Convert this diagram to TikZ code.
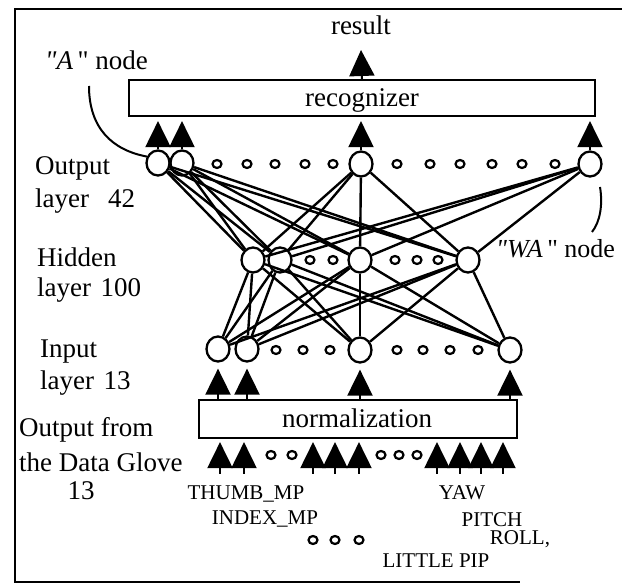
\documentclass[tikz,border=0pt]{standalone}
\usepackage{fontspec}
\setmainfont{Liberation Serif}
\usetikzlibrary{arrows.meta,shapes.geometric}
\begin{document}
\begin{tikzpicture}[x=1pt,y=-1pt,
  big/.style={ellipse,draw,line width=2.3pt,minimum width=23pt,minimum height=25pt,inner sep=0pt},
  small/.style={ellipse,draw,line width=2.2pt,minimum width=9pt,minimum height=8pt,inner sep=0pt},
  conn/.style={line width=2.4pt},
  arr/.style={line width=2pt,-{Triangle[length=26pt,width=25pt]}},
  box/.style={draw,line width=2.2pt,inner sep=0pt},
  lab/.style={font=\fontsize{27}{30}\selectfont,anchor=base west,inner sep=0pt},
  ctext/.style={font=\fontsize{27}{30}\selectfont,anchor=base,inner sep=0pt},
  glab/.style={font=\fontsize{21}{24}\selectfont,anchor=base,inner sep=0pt},
]
\useasboundingbox (0,0) rectangle (622,585);
% frame
\draw[line width=2pt] (622,9) -- (15,9) -- (15,582) -- (520,582);

% boxes
\node[box,minimum width=466pt,minimum height=36pt] (rec) at (362,98) {};
\node[ctext] (rectext) at (362,107) {recognizer};
\node[box,minimum width=318pt,minimum height=38pt] (norm) at (358,419) {};
\node[ctext] (normtext) at (357,428) {normalization};

% result
\node[ctext] (res) at (361,35) {result};
\draw[arr] (rec.north) -- ([yshift=-15pt]res.base);

% output layer
\node[big] (O1) at (158,163) {};
\node[big] (O2) at (182,163) {};
\node[big] (O3) at (361,164) {};
\node[big] (O4) at (590,164) {};
\foreach \x [count=\i] in {217,247,275,305,333,397,430,460,492,522,555}
  \node[small] (os\i) at (\x,164) {};

% hidden layer
\node[big] (H1) at (253,260) {};
\node[big] (H2) at (280,260) {};
\node[big] (H3) at (360,260) {};
\node[big] (H4) at (468,260) {};
\foreach \x [count=\i] in {310,333,395,417,438}
  \node[small] (hs\i) at (\x,260) {};

% input layer
\node[big] (I1) at (218,349) {};
\node[big] (I2) at (247,349) {};
\node[big] (I3) at (360,350) {};
\node[big] (I4) at (510,350) {};
\foreach \x [count=\i] in {276,303,330,397,423,450,478}
  \node[small] (is\i) at (\x,350) {};

% connections
\foreach \o in {O1,O2,O3,O4}
  \foreach \h in {H1,H2,H3,H4}
    \draw[conn] (\o) -- (\h);
\foreach \h in {H1,H2,H3,H4}
  \foreach \i in {I1,I2,I3,I4}
    \draw[conn] (\h) -- (\i);

% arrows output -> recognizer
\foreach \o in {O1,O2,O3,O4}
  \draw[arr,shorten >=4pt] (\o.north) -- (\o.north |- rec.south);

% arrows normalization -> input
\foreach \i in {I1,I2,I3,I4}
  \draw[arr,shorten >=6pt] (\i |- norm.north) -- (\i.south);

% glove arrows
\foreach \x [count=\k] in {220,244,313,335,359,437,460,481,503}{
  \coordinate (g\k) at (\x,474);
  \draw[arr,shorten >=3pt] (g\k) -- (g\k |- norm.south);
}
\foreach \x [count=\i] in {271,292,381,399,417}
  \node[small] (gs\i) at (\x,455) {};

% left labels
\node[lab] (lo1) at (35,175) {Output};
\node[lab] (lo2) at (35,208) {layer\hspace{0.7em}42};
\node[lab] (lh1) at (37,267) {Hidden};
\node[lab] (lh2) at (37,297) {layer\hspace{0.35em}100};
\node[lab] (li1) at (40,358) {Input};
\node[lab] (li2) at (40,390) {layer\hspace{0.35em}13};
\node[lab] (lg1) at (19,437) {Output from};
\node[lab] (lg2) at (19,472) {the Data Glove};
\node[ctext] (lg3) at (81,500) {13};

% A node / WA node
\node[lab] (alab) at (45,70) {\textit{\textquotedbl A}\,\textquotedbl\ node};
\coordinate (aS) at (89,86);
\draw[line width=2pt] (aS) .. controls (89,128) and (112,150) .. (O1.150);
\node[lab,font=\fontsize{26}{30}\selectfont] (walab) at (496,258) {\textit{\textquotedbl WA}\,\textquotedbl\ node};
\coordinate (wT) at (600,187);
\coordinate (wB) at (592,232);
\draw[line width=2pt] (wT) .. controls (603,205) and (600,222) .. (wB);

% glove labels
\node[glab] (t1) at (246,500) {THUMB\_MP};
\node[glab] (t2) at (265,525) {INDEX\_MP};
\foreach \x [count=\i] in {313,335,359}
  \node[small] (bd\i) at (\x,540) {};
\node[glab] (t3) at (436,568) {LITTLE PIP};
\node[glab] (t4) at (462,500) {YAW};
\node[glab] (t5) at (492,527) {PITCH};
\node[glab] (t6) at (520,545) {ROLL,};
\end{tikzpicture}
\end{document}
